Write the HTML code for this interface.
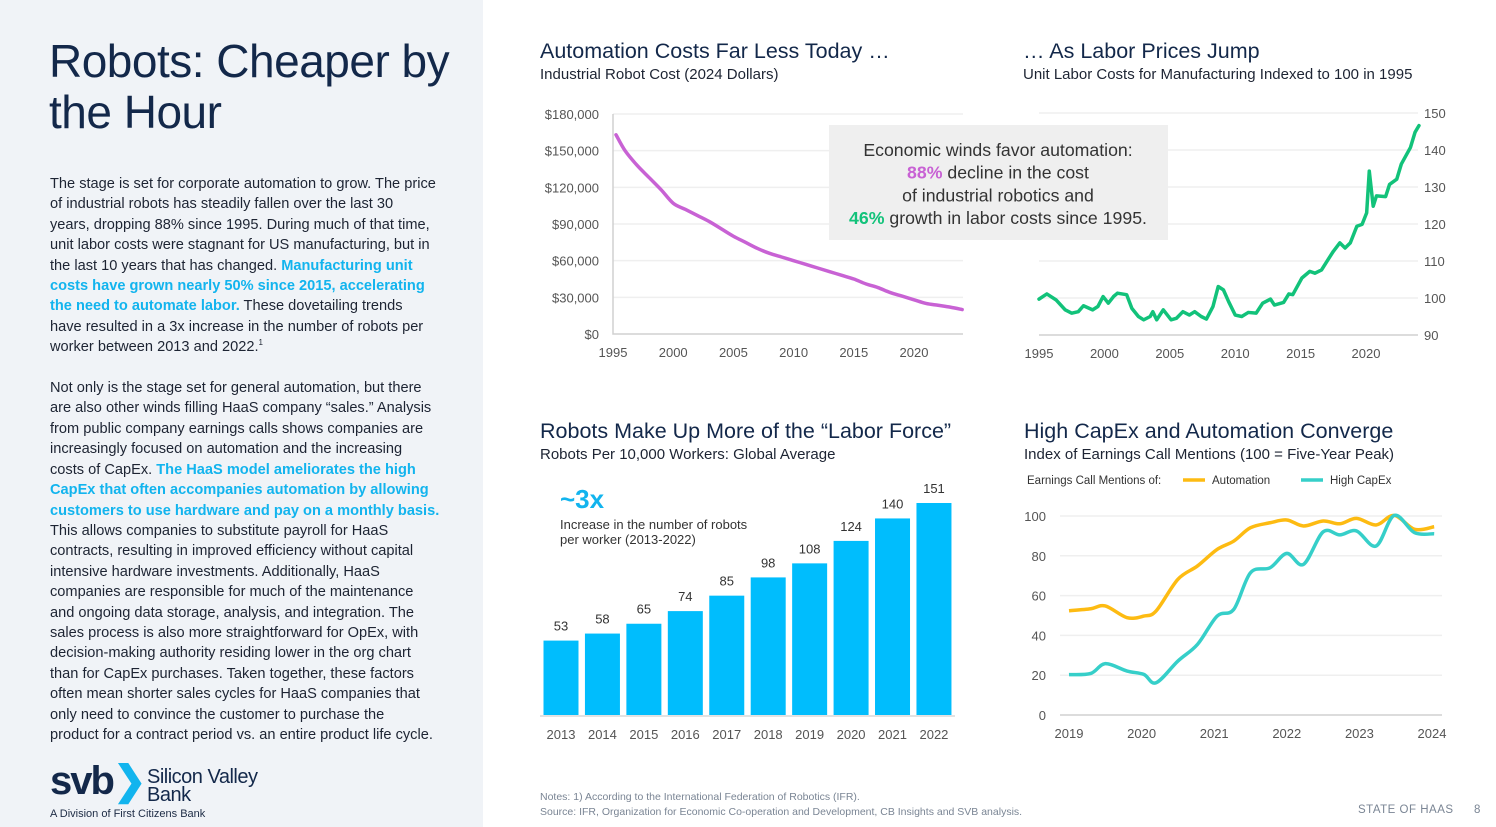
<!DOCTYPE html>
<html><head><meta charset="utf-8">
<style>
body{margin:0;width:1496px;height:827px;overflow:hidden;background:#fff;font-family:"Liberation Sans",sans-serif;position:relative;color:#1d2b44}
#left{position:absolute;left:0;top:0;width:483px;height:827px;background:#f0f3f7}
.t{position:absolute;white-space:nowrap}
#title{left:49px;top:36px;font-size:46px;line-height:51px;color:#13284a;letter-spacing:-0.5px}
#body{left:50px;top:174px;font-size:14.6px;line-height:20.4px;color:#1d2433}
#body b{color:#12b4ee}
#body sup{line-height:0;font-size:8px}
.ct{font-size:21.5px;color:#13284a}
.cs{font-size:15px;color:#1d2433}
svg text{font-family:"Liberation Sans",sans-serif}
</style></head><body>
<div id="left"></div>
<div id="title" class="t">Robots: Cheaper by<br>the Hour</div>
<div id="body" class="t">The stage is set for corporate automation to grow. The price<br>of industrial robots has steadily fallen over the last 30<br>years, dropping 88% since 1995. During much of that time,<br>unit labor costs were stagnant for US manufacturing, but in<br>the last 10 years that has changed. <b>Manufacturing unit</b><br><b>costs have grown nearly 50% since 2015, accelerating</b><br><b>the need to automate labor.</b> These dovetailing trends<br>have resulted in a 3x increase in the number of robots per<br>worker between 2013 and 2022.<sup>1</sup><br><br>Not only is the stage set for general automation, but there<br>are also other winds filling HaaS company “sales.” Analysis<br>from public company earnings calls shows companies are<br>increasingly focused on automation and the increasing<br>costs of CapEx. <b>The HaaS model ameliorates the high</b><br><b>CapEx that often accompanies automation by allowing</b><br><b>customers to use hardware and pay on a monthly basis.</b><br>This allows companies to substitute payroll for HaaS<br>contracts, resulting in improved efficiency without capital<br>intensive hardware investments. Additionally, HaaS<br>companies are responsible for much of the maintenance<br>and ongoing data storage, analysis, and integration. The<br>sales process is also more straightforward for OpEx, with<br>decision-making authority residing lower in the org chart<br>than for CapEx purchases. Taken together, these factors<br>often mean shorter sales cycles for HaaS companies that<br>only need to convince the customer to purchase the<br>product for a contract period vs. an entire product life cycle.</div>

<div class="t" style="left:50px;top:758px;font-size:40px;font-weight:bold;color:#13284a;letter-spacing:-2px">svb<span style="color:#12b4ee">❯</span></div>
<div class="t" style="left:147px;top:768px;font-size:20px;line-height:18px;color:#13284a;letter-spacing:-0.5px">Silicon Valley<br>Bank</div>
<div class="t" style="left:50px;top:808px;font-size:11px;color:#1d2b44">A Division of First Citizens Bank</div>

<div class="t ct" style="left:540px;top:39px">Automation Costs Far Less Today …</div>
<div class="t cs" style="left:540px;top:66px">Industrial Robot Cost (2024 Dollars)</div>
<div class="t ct" style="left:1023px;top:39px">… As Labor Prices Jump</div>
<div class="t cs" style="left:1023px;top:66px">Unit Labor Costs for Manufacturing Indexed to 100 in 1995</div>
<div class="t ct" style="left:540px;top:419px">Robots Make Up More of the “Labor Force”</div>
<div class="t cs" style="left:540px;top:446px">Robots Per 10,000 Workers: Global Average</div>
<div class="t ct" style="left:1024px;top:419px">High CapEx and Automation Converge</div>
<div class="t cs" style="left:1024px;top:446px">Index of Earnings Call Mentions (100 = Five-Year Peak)</div>

<div class="t" style="left:540px;top:790px;font-size:10.5px;line-height:15px;color:#7a8594">Notes: 1) According to the International Federation of Robotics (IFR).<br>Source: IFR, Organization for Economic Co-operation and Development, CB Insights and SVB analysis.</div>
<div class="t" style="left:1358px;top:804px;font-size:11.5px;color:#7a8594;letter-spacing:0.5px">STATE OF HAAS</div>
<div class="t" style="left:1474px;top:804px;font-size:11.5px;color:#7a8594">8</div>

<svg id="svg" width="1496" height="827" style="position:absolute;left:0;top:0"></svg>

<script>
// Chart 1: robot cost
const c1Years=[1995.25,1996,1997,1998,1999,2000,2001,2002,2003,2004,2005,2006,2007,2008,2009,2010,2011,2012,2013,2014,2015,2016,2017,2018,2019,2020,2021,2022,2023,2024];
const c1Cost=[163000,150000,138000,128000,118000,107000,102000,97000,92000,86000,80000,75000,70000,66000,63000,60000,57000,54000,51000,48000,45000,41000,38000,34000,31000,28000,25000,23500,22000,20000];
const c1YTicks=[0,30000,60000,90000,120000,150000,180000];
const c1XTicks=[1995,2000,2005,2010,2015,2020];
// Chart 2: unit labor costs
const c2Years=[1995,1995.6,1996.3,1997,1997.5,1998,1998.4,1999.1,1999.5,1999.9,2000.3,2000.7,2001,2001.7,2002.1,2002.6,2003,2003.5,2003.7,2004,2004.5,2005.1,2005.5,2006,2006.5,2006.9,2007.4,2007.8,2008.3,2008.7,2009.1,2009.5,2010,2010.5,2011,2011.6,2012.1,2012.7,2013,2013.7,2014.1,2014.4,2015.1,2015.7,2016.1,2016.6,2017.1,2017.5,2018,2018.4,2018.8,2019.3,2019.7,2020.05,2020.25,2020.55,2020.8,2021.5,2021.8,2022.35,2022.7,2023.4,2023.75,2024.05];
const c2Index=[99.7,101.1,99.5,96.8,95.9,96.3,97.9,96.8,97.7,100.4,98.6,100.4,101.3,100.9,97.2,95,94.1,95,96.3,94.1,96.8,94.1,94.5,96.3,95.4,96.3,95,94.3,97.7,103.1,102.2,99,95.4,95,96.1,95.9,98.6,99.7,98.1,98.8,101.1,100.9,105.4,107.2,106.7,107.6,110.4,112.6,114.9,113.5,114.9,119.4,119.9,123,134.3,124.8,127.6,127.4,130.7,132.1,136.2,140.7,144.8,146.6];
const c2YTicks=[90,100,110,120,130,140,150];
const c2XTicks=[1995,2000,2005,2010,2015,2020];
// Chart 3: robots per 10k workers
const c3Years=["2013","2014","2015","2016","2017","2018","2019","2020","2021","2022"];
const c3Values=[53,58,65,74,85,98,108,124,140,151];
// Chart 4: earnings call mentions
const c4Time=[2019,2019.3,2019.5,2019.8,2020.03,2020.2,2020.5,2020.77,2021.04,2021.27,2021.5,2021.77,2022,2022.23,2022.5,2022.73,2022.96,2023.23,2023.48,2023.76,2024.03];
const c4Automation=[52.4,53.4,54.8,48.9,49.7,52.3,68.2,74.9,83.2,87.4,94.1,96.6,98,95,97.5,96.1,98.8,95.5,100.3,93.3,94.6];
const c4CapEx=[20.3,20.9,25.8,22.1,20.4,16.2,27.1,35.5,49.7,53.1,71.5,74,81.2,75.7,92,90.5,92.5,84.9,100.3,91.6,91.1];
const c4YTicks=[0,20,40,60,80,100];
const c4XTicks=[2019,2020,2021,2022,2023,2024];

const NS="http://www.w3.org/2000/svg";
const svg=document.getElementById('svg');
function mk(tag,attrs,parent){const e=document.createElementNS(NS,tag);for(const k in attrs)e.setAttribute(k,attrs[k]);(parent||svg).appendChild(e);return e;}
function txt(x,y,s,attrs){const e=mk('text',Object.assign({x:x,y:y,'font-size':13,fill:'#555'},attrs||{}));e.textContent=s;return e;}
function smooth(pts){let d='M'+pts[0][0]+','+pts[0][1];for(let i=0;i<pts.length-1;i++){const p0=pts[i-1]||pts[i],p1=pts[i],p2=pts[i+1],p3=pts[i+2]||p2;const c1x=p1[0]+(p2[0]-p0[0])/6,c1y=p1[1]+(p2[1]-p0[1])/6,c2x=p2[0]-(p3[0]-p1[0])/6,c2y=p2[1]-(p3[1]-p1[1])/6;d+=`C${c1x},${c1y} ${c2x},${c2y} ${p2[0]},${p2[1]}`;}return d;}

// ---- Chart 1
const x1=y=>613+(y-1995)*12.04, y1=v=>334-v/180000*220;
c1YTicks.forEach(v=>{
 if(v>0){const g=mk('line',{x1:613,x2:963,y1:y1(v),y2:y1(v),stroke:'#efefef','stroke-width':1.5});
 
 }
 const t=txt(599,y1(v)+5,'$'+v.toLocaleString('en-US'),{'text-anchor':'end'});
 
 
});
let a=mk('path',{d:'M613,114V334H963',stroke:'#d0d0d0',fill:'none','stroke-width':1.5});


c1XTicks.forEach(y=>{const t=txt(x1(y),357,String(y),{'text-anchor':'middle'});
 
 });
let l1=mk('path',{d:smooth(c1Years.map((y,i)=>[x1(y),y1(c1Cost[i])])),stroke:'#c862d4','stroke-width':3.5,fill:'none','stroke-linecap':'round'});



// ---- Chart 2
const x2=y=>1039+(y-1995)*13.08, y2=v=>335-(v-90)*3.7;
c2YTicks.forEach(v=>{
 if(v>90){const g=mk('line',{x1:1039,x2:1418,y1:y2(v),y2:y2(v),stroke:'#efefef','stroke-width':1.5});
 
 }
 const t=txt(1424,y2(v)+5,String(v));
 
 
});
a=mk('line',{x1:1039,x2:1418,y1:335,y2:335,stroke:'#d0d0d0','stroke-width':1.5});


c2XTicks.forEach(y=>{const t=txt(x2(y),358,String(y),{'text-anchor':'middle'});
 
 });
let l2=mk('polyline',{points:c2Years.map((y,i)=>x2(y)+','+y2(c2Index[i])).join(' '),stroke:'#12c27a','stroke-width':3.5,fill:'none','stroke-linejoin':'round','stroke-linecap':'round'});



// annotation box
let box=mk('rect',{x:829,y:125,width:339,height:115,fill:'#efefef'});


const ann=[['','Economic winds favor automation:',''],['88%',' decline in the cost','#c862d4'],['','of industrial robotics and',''],['46%',' growth in labor costs since 1995.','#12c27a']];
ann.forEach((r,i)=>{const t=txt(998,156+i*22.7,'',{'text-anchor':'middle','font-size':17.7,fill:'#333'});
 
 
 if(r[0]){const s=mk('tspan',{fill:r[2],'font-weight':'bold'},t);s.textContent=r[0];}
 const s2=mk('tspan',{},t);s2.textContent=r[1];});

// ---- Chart 3
const x3=i=>561+i*41.44, y3=v=>715-v*1.404;
let cal=txt(560,508,'~3x',{'font-size':26,'font-weight':'bold',fill:'#12b4ee'});


let cal2=txt(560,529,'Increase in the number of robots',{fill:'#333'});


let cal3=txt(560,544,'per worker (2013-2022)',{fill:'#333'});


c3Values.forEach((v,i)=>{
 const b=mk('rect',{x:x3(i)-17.5,y:y3(v),width:35,height:715-y3(v),fill:'#00bdfd'});
 
 
 const t=txt(x3(i),y3(v)-10,String(v),{'text-anchor':'middle',fill:'#333'});
 
 
 const xt=txt(x3(i),739,c3Years[i],{'text-anchor':'middle'});
 
 
});
a=mk('line',{x1:540,x2:955,y1:716,y2:716,stroke:'#d8d8d8','stroke-width':1.5});



// ---- Chart 4
const x4=y=>1069+(y-2019)*72.6, y4=v=>715-v*1.99;
c4YTicks.forEach(v=>{
 const g=mk('line',{x1:1060,x2:1442,y1:y4(v),y2:y4(v),stroke:v?'#efefef':'#d0d0d0','stroke-width':1.5});
 
 
 const t=txt(1046,y4(v)+5,String(v),{'text-anchor':'end'});
 
 
});
c4XTicks.forEach(y=>{const t=txt(x4(y),738,String(y),{'text-anchor':'middle'});
 
 });
let la=mk('path',{d:smooth(c4Time.map((t,i)=>[x4(t),y4(c4Automation[i])])),stroke:'#fdbb12','stroke-width':3.5,fill:'none'});


let lc=mk('path',{d:smooth(c4Time.map((t,i)=>[x4(t),y4(c4CapEx[i])])),stroke:'#36cfc9','stroke-width':3.5,fill:'none'});


let lg=txt(1027,484,'Earnings Call Mentions of:',{'font-size':11.5,fill:'#333'});


let ls1=mk('line',{x1:1183,x2:1205,y1:480,y2:480,stroke:'#fdbb12','stroke-width':3.5});


let lt1=txt(1212,484,'Automation',{'font-size':11.5,fill:'#333'});


let ls2=mk('line',{x1:1301,x2:1323,y1:480,y2:480,stroke:'#36cfc9','stroke-width':3.5});


let lt2=txt(1330,484,'High CapEx',{'font-size':11.5,fill:'#333'});


</script>
</body></html>
